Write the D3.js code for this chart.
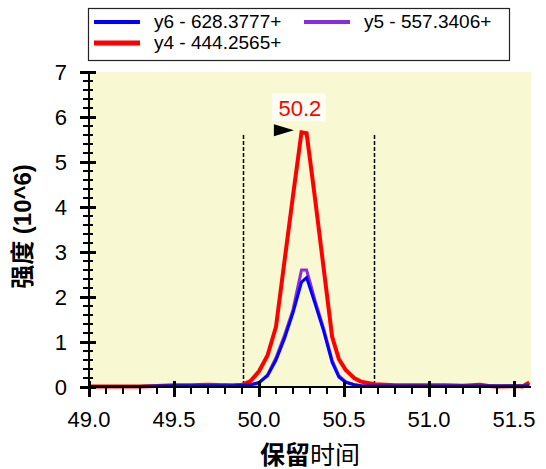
<!DOCTYPE html>
<html>
<head>
<meta charset="utf-8">
<script src="https://cdn.jsdelivr.net/npm/d3@7"></script>
<style>
  body { margin: 0; background: #fff; }
  text { font-family: "Liberation Sans", Arial, "Noto Sans CJK SC", sans-serif; }
</style>
</head>
<body>
<div id="chart"></div>
<script>
// retention times shared by all traces (min)
const times = [49.0, 49.1, 49.2, 49.3, 49.4, 49.5, 49.6, 49.7, 49.8, 49.85, 49.9, 49.95,
  50.0, 50.05, 50.1, 50.15, 50.2, 50.25, 50.28, 50.33, 50.38, 50.43, 50.47, 50.51, 50.56,
  50.6, 50.68, 50.8, 50.9, 51.0, 51.1, 51.2, 51.3, 51.35, 51.4, 51.5, 51.55, 51.59];

// intensities (10^6)
const y4 = [0.01, 0.01, 0.01, 0.01, 0.02, 0.04, 0.04, 0.05, 0.04, 0.04, 0.05, 0.13,
  0.35, 0.7, 1.34, 2.8, 4.25, 5.66, 5.64, 4.18, 2.65, 1.12, 0.62, 0.38, 0.2,
  0.12, 0.06, 0.04, 0.04, 0.04, 0.04, 0.03, 0.05, 0.02, 0.01, 0.02, 0.01, 0.1];
const y5 = [0.01, 0.01, 0.01, 0.01, 0.02, 0.03, 0.03, 0.03, 0.05, 0.03, 0.04, 0.05,
  0.08, 0.27, 0.65, 1.15, 1.72, 2.6, 2.6, 1.92, 1.3, 0.6, 0.25, 0.12, 0.05,
  0.03, 0.02, 0.02, 0.02, 0.02, 0.03, 0.02, 0.02, 0.02, 0.02, 0.02, 0.02, 0.02];
const y6 = [0.01, 0.01, 0.01, 0.01, 0.02, 0.03, 0.03, 0.03, 0.03, 0.03, 0.04, 0.05,
  0.1, 0.25, 0.6, 1.08, 1.65, 2.33, 2.43, 1.85, 1.25, 0.55, 0.22, 0.1, 0.05,
  0.03, 0.02, 0.02, 0.02, 0.02, 0.02, 0.02, 0.02, 0.02, 0.02, 0.02, 0.02, 0.02];

const seriesNames = ['y6 - 628.3777+', 'y5 - 557.3406+', 'y4 - 444.2565+'];
const seriesColors = ['#0000ff', '#8a2be2', '#ff0000'];

const xTicks = [49.0, 49.5, 50.0, 50.5, 51.0, 51.5];
const xMinor = [49.1, 49.2, 49.3, 49.4, 49.6, 49.7, 49.8, 49.9, 50.1, 50.2, 50.3, 50.4,
  50.6, 50.7, 50.8, 50.9, 51.1, 51.2, 51.3, 51.4];
const yTicks = [0, 1, 2, 3, 4, 5, 6, 7];
const yMinor = d3.range(0, 35).filter(i => i % 5 !== 0).map(i => i / 5);
const boundaries = [49.905, 50.676];   // integration limits
const peakTime = 50.27, peakLabel = '50.2';

const width = 546, height = 469;
const margin = {top: 72, right: 15, bottom: 82, left: 89};
const w = width - margin.left - margin.right;
const h = height - margin.top - margin.bottom;

const svg = d3.select('#chart').append('svg')
  .attr('width', width).attr('height', height);

// absolute-pixel scales
const x = d3.scaleLinear().domain([49, 49 + w / 170]).range([margin.left, margin.left + w]);
const y = d3.scaleLinear().domain([0, 7]).range([margin.top + h, margin.top]);
const x0 = margin.left, y0 = margin.top + h;

// plot background
svg.append('rect')
  .attr('x', x0).attr('y', margin.top).attr('width', w).attr('height', h)
  .attr('fill', '#f8f8d2');

// integration boundaries
svg.selectAll('line.bound')
  .data(boundaries)
  .join('line')
    .attr('class', 'bound')
    .attr('x1', d => Math.round(x(d)) + 0.5).attr('x2', d => Math.round(x(d)) + 0.5)
    .attr('y1', y(5.6)).attr('y2', y0)
    .attr('stroke', '#000').attr('stroke-width', 1.5)
    .attr('stroke-dasharray', '4,2');

// traces, y4 underneath and y6 on top
const traces = [
  {vals: y4, color: seriesColors[2], sw: 4},
  {vals: y5, color: seriesColors[1], sw: 3},
  {vals: y6, color: seriesColors[0], sw: 3}
];
const line = d3.line().x((d, i) => x(times[i])).y(d => y(d));
svg.selectAll('path.trace')
  .data(traces)
  .join('path')
    .attr('class', 'trace')
    .attr('d', d => line(d.vals))
    .attr('fill', 'none')
    .attr('stroke', d => d.color)
    .attr('stroke-width', d => d.sw);

// peak marker + label
const peakVal = d3.max(y4);
const tipX = x(peakTime) - 11, tipY = y(peakVal) - 2;
svg.append('path')
  .attr('d', `M${tipX},${tipY} L${tipX - 20},${tipY - 6} L${tipX - 20},${tipY + 6} Z`)
  .attr('fill', '#000');
svg.append('rect')
  .attr('x', tipX - 22).attr('y', tipY - 37)
  .attr('width', 54).attr('height', 28)
  .attr('fill', '#fdfdf2');
svg.append('text')
  .attr('x', tipX + 6).attr('y', tipY - 14)
  .attr('text-anchor', 'middle')
  .attr('font-size', '22px')
  .attr('fill', '#ff0000')
  .text(peakLabel);

// tick marks (minor / major), crossing the axis lines
svg.selectAll('rect.xminor')
  .data(xMinor)
  .join('rect')
    .attr('class', 'xminor')
    .attr('x', d => Math.round(x(d)) - 1).attr('y', y0)
    .attr('width', 2).attr('height', 7)
    .attr('fill', '#000');
svg.selectAll('rect.xmajor')
  .data(xTicks)
  .join('rect')
    .attr('class', 'xmajor')
    .attr('x', d => Math.round(x(d)) - 1).attr('y', y0 - 6)
    .attr('width', 3).attr('height', 16)
    .attr('fill', '#000');
svg.selectAll('rect.yminor')
  .data(yMinor)
  .join('rect')
    .attr('class', 'yminor')
    .attr('x', x0 - 6).attr('y', d => Math.round(y(d)) - 1)
    .attr('width', 10).attr('height', 2)
    .attr('fill', '#000');
svg.selectAll('rect.ymajor')
  .data(yTicks)
  .join('rect')
    .attr('class', 'ymajor')
    .attr('x', x0 - 9).attr('y', d => Math.round(y(d)) - 1)
    .attr('width', 16).attr('height', 3)
    .attr('fill', '#000');
svg.append('rect').attr('x', x0).attr('y', y0 - 1).attr('width', w).attr('height', 2).attr('fill', '#000');
svg.append('rect').attr('x', x0 - 1).attr('y', margin.top).attr('width', 2).attr('height', h + 10).attr('fill', '#000');

// tick labels
svg.selectAll('text.xlbl')
  .data(xTicks)
  .join('text')
    .attr('class', 'xlbl')
    .attr('x', d => x(d)).attr('y', y0 + 40)
    .attr('text-anchor', 'middle')
    .attr('font-size', '22px')
    .text(d3.format('.1f'));
svg.selectAll('text.ylbl')
  .data(yTicks)
  .join('text')
    .attr('class', 'ylbl')
    .attr('x', x0 - 22).attr('y', d => y(d) + 8)
    .attr('text-anchor', 'end')
    .attr('font-size', '22px')
    .text(d3.format('d'));

// axis titles
svg.append('text')
  .attr('transform', `translate(31,${margin.top + h / 2 - 3}) rotate(-90)`)
  .attr('text-anchor', 'middle')
  .attr('font-size', '24px')
  .attr('font-weight', 'bold')
  .text('强度 (10^6)');

const xt = svg.append('text')
  .attr('x', margin.left + w / 2).attr('y', 464)
  .attr('text-anchor', 'middle')
  .attr('font-size', '25px');
xt.append('tspan').attr('font-weight', 'bold').text('保留');
xt.append('tspan').text('时间');

// legend
const lg = svg.append('g');
lg.append('rect')
  .attr('x', 88.5).attr('y', 8.5).attr('width', 421).attr('height', 52)
  .attr('fill', '#fff').attr('stroke', '#222').attr('stroke-width', 1.2);
const legendPos = [[94, 22], [304, 22], [94, 43]];
const legendWidth = [4, 4, 5];
seriesNames.forEach((name, i) => {
  const [lx, ly] = legendPos[i];
  lg.append('line')
    .attr('x1', lx).attr('x2', lx + 46).attr('y1', ly).attr('y2', ly)
    .attr('stroke', seriesColors[i]).attr('stroke-width', legendWidth[i]);
  lg.append('text')
    .attr('x', lx + 60).attr('y', ly + 6)
    .attr('font-size', '19px')
    .text(name);
});
</script>
</body>
</html>
